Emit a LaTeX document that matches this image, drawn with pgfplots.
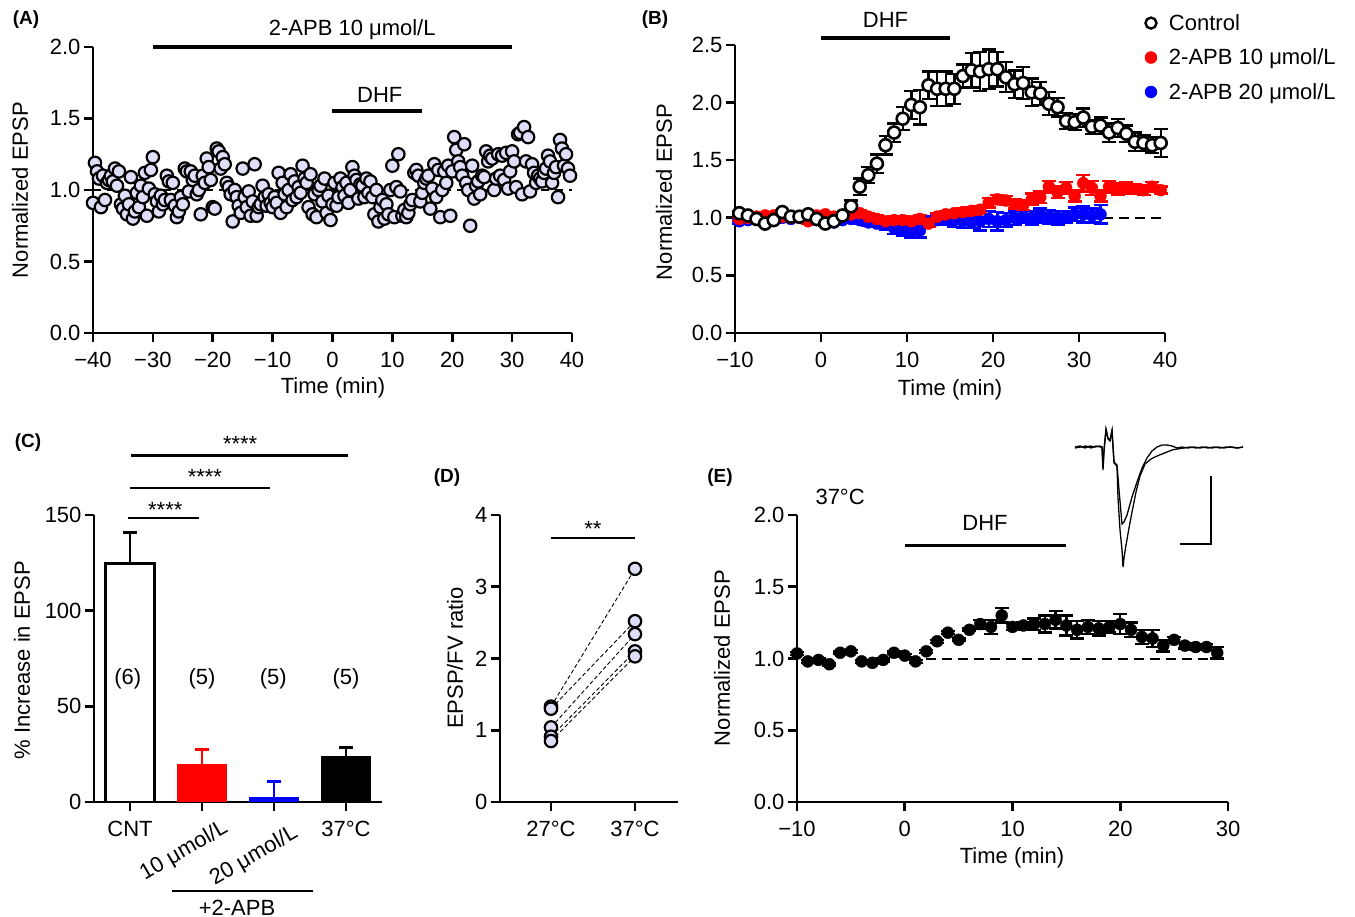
\documentclass[border=0pt]{standalone}
\usepackage{fontspec}
\setmainfont{Liberation Sans}
\usepackage{pgfplots}
\pgfplotsset{compat=1.18}
\definecolor{lav}{RGB}{222,222,248}
\newcommand\fs{\fontsize{22}{26}\selectfont}
\newcommand\fl{\fontsize{19}{22}\selectfont\bfseries}

\pgfplotsset{
  panel/.style={
    scale only axis, clip=false,
    axis lines=left, axis line style={line width=2.6pt,-},
    tick align=outside, major tick length=9pt,
    tick style={line width=2.6pt,black},
    tick label style={font=\fs},
    xticklabel style={yshift=-7pt},
  },
  lavdot/.style={mark=*, mark size=6.2pt, mark options={solid, fill=lav, draw=black, line width=2.2pt}},
  ebar/.style={error bars/.cd, y dir=both, y explicit,
    error bar style={line width=2.4pt,#1},
    error mark options={rotate=90, mark size=7pt, line width=2.4pt, #1}},
  dotleg/.style={legend image code/.code={\draw[##1] plot coordinates {(0pt,0pt)};}},
}

\begin{document}
\begin{tikzpicture}
\useasboundingbox (0,0) rectangle (1355pt,-917pt);

% ---------- (A)
\begin{axis}[panel, at={(93pt,-333pt)}, width=479pt, height=286pt,
  xmin=-40, xmax=40, ymin=0, ymax=2,
  xtick={-40,-30,...,40}, xticklabels={−40,−30,−20,−10,0,10,20,30,40},
  ytick={0,0.5,1,1.5,2}, yticklabels={0.0,0.5,1.0,1.5,2.0}]
\addplot[black, line width=1.4pt, dash pattern=on 8pt off 6pt] coordinates {(-40,1) (40,1)};
\addplot[only marks, lavdot] coordinates {
(-40,0.91)(-39.67,1.19)(-39.33,1.13) (-39,1.08)(-38.67,0.88)(-38.33,1.10)
(-38,0.93)(-37.67,1.05)(-37.33,1.07) (-37,1.10)(-36.67,1.06)(-36.33,1.15)
(-36,1.03)(-35.67,1.13)(-35.33,0.90) (-35,0.87)(-34.67,0.96)(-34.33,0.83)
(-34,0.90)(-33.67,1.09)(-33.33,0.80) (-33,0.85)(-32.67,0.98)(-32.33,0.88)
(-32,1.03)(-31.67,0.95)(-31.33,1.12) (-31,0.82)(-30.67,1.01)(-30.33,1.14)
(-30,1.23)(-29.67,0.97)(-29.33,0.92) (-29,0.85)(-28.67,0.96)(-28.33,0.90)
(-28,0.93)(-27.67,1.10)(-27.33,1.06) (-27,0.93)(-26.67,1.05)(-26.33,0.89)
(-26,0.81)(-25.67,0.85)(-25.33,0.95) (-25,0.90)(-24.67,1.15)(-24.33,1.13)
(-24,0.99)(-23.67,1.13)(-23.33,1.07) (-23,1.10)(-22.67,0.97)(-22.33,1.00)
(-22,0.83)(-21.67,1.10)(-21.33,1.05) (-21,1.22)(-20.67,1.16)(-20.33,1.07)
(-20,0.88)(-19.67,0.87)(-19.33,1.29) (-19,1.27)(-18.67,1.15)(-18.33,1.23)
(-18,1.18)(-17.67,1.05)(-17.33,1.02) (-17,0.97)(-16.67,0.78)(-16.33,1.00)
(-16,0.95)(-15.67,0.89)(-15.33,0.84) (-15,1.15)(-14.67,0.95)(-14.33,0.88)
(-14,0.99)(-13.67,0.82)(-13.33,0.92) (-13,1.18)(-12.67,0.82)(-12.33,0.88)
(-12,0.90)(-11.67,1.03)(-11.33,0.95) (-11,0.89)(-10.67,0.97)(-10.33,0.91)
(-10,0.88)(-9.67,0.95)(-9.33,0.91) (-9,1.12)(-8.67,0.84)(-8.33,1.05)
(-8,0.97)(-7.67,0.88)(-7.33,1.00) (-7,1.11)(-6.67,0.93)(-6.33,1.06)
(-6,0.95)(-5.67,1.02)(-5.33,0.98) (-5,1.17)(-4.67,1.08)(-4.33,1.05)
(-4,0.88)(-3.67,1.11)(-3.33,0.83) (-3,0.97)(-2.67,0.81)(-2.33,1.00)
(-2,1.03)(-1.67,0.92)(-1.33,1.08) (-1,0.84)(-0.67,0.96)(-0.33,0.79)
(0,0.90)(0.33,1.05)(0.67,0.89) (1,0.95)(1.33,1.08)(1.67,1.02)
(2,0.96)(2.33,1.05)(2.67,0.91) (3,1.00)(3.33,1.16)(3.67,1.10)
(4,1.07)(4.33,0.94)(4.67,1.04) (5,1.03)(5.33,0.95)(5.67,1.08)
(6,0.98)(6.33,1.06)(6.67,0.95) (7,0.83)(7.33,1.00)(7.67,0.78)
(8,0.88)(8.33,0.93)(8.67,0.80) (9,0.90)(9.33,0.83)(9.67,1.00)
(10,1.17)(10.33,0.81)(10.67,1.02) (11,1.25)(11.33,0.99)(11.67,0.82)
(12,0.86)(12.33,0.81)(12.67,0.84) (13,0.90)(13.33,0.93)(13.67,1.12)
(14,1.14)(14.33,1.10)(14.67,0.92) (15,0.98)(15.33,1.05)(15.67,1.08)
(16,1.10)(16.33,0.87)(16.67,1.01) (17,1.18)(17.33,0.95)(17.67,1.14)
(18,0.81)(18.33,1.00)(18.67,1.13) (19,1.05)(19.33,1.17)(19.67,0.82)
(20,1.13)(20.33,1.37)(20.67,1.28) (21,1.20)(21.33,1.16)(21.67,1.10)
(22,1.32)(22.33,1.05)(22.67,1.00) (23,0.75)(23.33,1.17)(23.67,0.94)
(24,1.03)(24.33,1.06)(24.67,0.97) (25,1.10)(25.33,1.09)(25.67,1.27)
(26,1.20)(26.33,1.24)(26.67,1.22) (27,1.00)(27.33,1.08)(27.67,1.25)
(28,1.10)(28.33,1.24)(28.67,1.07) (29,1.26)(29.33,1.01)(29.67,1.13)
(30,1.27)(30.33,1.20)(30.67,1.02) (31,1.39)(31.33,1.40)(31.67,0.97)
(32,1.44)(32.33,1.20)(32.67,1.37) (33,0.99)(33.33,1.18)(33.67,1.12)
(34,1.05)(34.33,1.10)(34.67,1.08) (35,1.06)(35.33,1.12)(35.67,1.15)
(36,1.24)(36.33,1.20)(36.67,1.05) (37,1.12)(37.33,1.16)(37.67,0.95)
(38,1.35)(38.33,1.29)(38.67,1.17) (39,1.25)(39.33,1.15)(39.67,1.10)
};
\draw[line width=3.2pt] (axis cs:-30,2) -- (axis cs:30,2);
\node[font=\fs] at (axis cs:3.3,2.12) {2-APB 10 μmol/L};
\draw[line width=3.2pt] (axis cs:0,1.552) -- (axis cs:15,1.552);
\node[font=\fs] at (axis cs:7.9,1.664) {DHF};
\end{axis}

% ---------- (B)
\begin{axis}[panel, at={(735pt,-333pt)}, width=430pt, height=288pt,
  xmin=-10, xmax=40, ymin=0, ymax=2.5,
  xtick={-10,0,...,40}, xticklabels={−10,0,10,20,30,40},
  ytick={0,0.5,...,2.5}, yticklabels={0.0,0.5,1.0,1.5,2.0,2.5},
  legend style={at={(axis description cs:0.953,1.114)}, anchor=north west,
    draw=none, fill=none, font=\fs, row sep=13pt, inner sep=0pt,
    /tikz/every odd column/.append style={column sep=10pt}},
  legend cell align=left]
\addlegendimage{only marks, mark=*, mark size=5.5pt, mark options={fill=white, draw=black, line width=2.4pt}, dotleg}
\addlegendimage{only marks, mark=*, mark size=6pt, red, dotleg}
\addlegendimage{only marks, mark=*, mark size=6pt, blue, dotleg}
\legend{Control, 2-APB 10 μmol/L, 2-APB 20 μmol/L}
\addplot[forget plot, black, line width=2pt, dash pattern=on 10pt off 6pt] coordinates {(-10,1) (40,1)};
% 2-APB 20 umol/L
\addplot[forget plot, only marks, mark=*, mark size=6pt, blue, ebar=blue] table[x=t, y=y, y error=e] {
t y e
-9.5 0.97 0.02
-8.5 0.98 0.02
-7.5 0.99 0.02
-6.5 0.98 0.02
-5.5 0.99 0.02
-4.5 1.00 0.02
-3.5 0.99 0.02
-2.5 1.00 0.02
-1.5 0.99 0.02
-0.5 0.98 0.02
0.5 0.96 0.02
1.5 0.96 0.02
2.5 0.98 0.02
3.5 0.99 0.02
4.5 0.98 0.03
5.5 0.96 0.03
6.5 0.95 0.03
7.5 0.94 0.04
8.5 0.91 0.05
9.5 0.90 0.06
10.5 0.88 0.05
11.5 0.89 0.06
12.5 0.97 0.04
13.5 0.98 0.04
14.5 0.99 0.05
15.5 0.98 0.06
16.5 0.97 0.06
17.5 0.96 0.05
18.5 0.97 0.08
19.5 0.99 0.07
20.5 0.97 0.08
21.5 0.98 0.06
22.5 1.00 0.06
23.5 1.01 0.05
24.5 1.00 0.06
25.5 1.02 0.06
26.5 1.01 0.06
27.5 1.00 0.06
28.5 1.01 0.05
29.5 1.03 0.06
30.5 1.03 0.07
31.5 1.02 0.06
32.5 1.03 0.08
};
% 2-APB 10 umol/L
\addplot[forget plot, only marks, mark=*, mark size=6pt, red, ebar=red] table[x=t, y=y, y error=e] {
t y e
-9.5 0.99 0.02
-8.5 1.00 0.02
-7.5 1.01 0.02
-6.5 1.02 0.02
-5.5 1.02 0.02
-4.5 1.01 0.02
-3.5 1.00 0.02
-2.5 1.00 0.02
-1.5 0.97 0.02
-0.5 1.02 0.02
0.5 1.03 0.02
1.5 1.01 0.02
2.5 1.02 0.02
3.5 1.03 0.03
4.5 1.04 0.03
5.5 1.01 0.03
6.5 0.99 0.03
7.5 0.97 0.03
8.5 0.98 0.03
9.5 0.98 0.03
10.5 0.97 0.03
11.5 0.99 0.03
12.5 0.95 0.03
13.5 1.01 0.03
14.5 1.03 0.03
15.5 1.04 0.03
16.5 1.05 0.03
17.5 1.06 0.03
18.5 1.07 0.03
19.5 1.13 0.04
20.5 1.16 0.04
21.5 1.15 0.04
22.5 1.12 0.04
23.5 1.11 0.04
24.5 1.16 0.05
25.5 1.18 0.05
26.5 1.27 0.05
27.5 1.22 0.05
28.5 1.26 0.05
29.5 1.19 0.05
30.5 1.30 0.07
31.5 1.26 0.06
32.5 1.19 0.05
33.5 1.27 0.05
34.5 1.25 0.05
35.5 1.26 0.05
36.5 1.25 0.04
37.5 1.24 0.04
38.5 1.27 0.04
39.5 1.24 0.03
};
% Control
\addplot[forget plot, only marks, mark=*, mark size=6pt, mark options={fill=white, draw=black, line width=2.6pt}, ebar=black] table[x=t, y=y, y error=e] {
t y e
-9.5 1.04 0.02
-8.5 1.02 0.02
-7.5 0.99 0.02
-6.5 0.95 0.02
-5.5 0.98 0.02
-4.5 1.05 0.02
-3.5 1.01 0.02
-2.5 1.01 0.02
-1.5 1.03 0.02
-0.5 0.99 0.02
0.5 0.95 0.02
1.5 0.97 0.02
2.5 1.02 0.03
3.5 1.10 0.05
4.5 1.27 0.07
5.5 1.37 0.07
6.5 1.47 0.08
7.5 1.63 0.08
8.5 1.74 0.08
9.5 1.86 0.10
10.5 1.98 0.12
11.5 1.96 0.15
12.5 2.15 0.12
13.5 2.12 0.15
14.5 2.12 0.15
15.5 2.12 0.13
16.5 2.23 0.10
17.5 2.28 0.15
18.5 2.27 0.17
19.5 2.29 0.17
20.5 2.29 0.15
21.5 2.22 0.13
22.5 2.16 0.12
23.5 2.17 0.14
24.5 2.09 0.12
25.5 2.08 0.10
26.5 1.99 0.10
27.5 1.96 0.08
28.5 1.84 0.07
29.5 1.83 0.07
30.5 1.87 0.08
31.5 1.79 0.06
32.5 1.80 0.07
33.5 1.74 0.08
34.5 1.78 0.08
35.5 1.73 0.07
36.5 1.66 0.08
37.5 1.65 0.07
38.5 1.63 0.07
39.5 1.65 0.12
};
\draw[line width=3.2pt] (axis cs:0,2.56) -- (axis cs:15,2.56);
\node[font=\fs] at (axis cs:7.5,2.72) {DHF};
\end{axis}

% ---------- (C)
\begin{axis}[panel, at={(94pt,-802pt)}, width=288pt, height=287pt,
  xmin=-0.5, xmax=3.5, ymin=0, ymax=150,
  xtick={0,1,2,3}, xticklabels={CNT,{},{},37°C},
  ytick={0,50,100,150}, yticklabels={0,50,100,150}]
\addplot[ybar, bar width=49pt, bar shift=0pt, fill=white, draw=black, line width=2.6pt,
  error bars/.cd, y dir=plus, y explicit, error bar style={line width=2.6pt,black},
  error mark options={rotate=90, mark size=7pt, line width=2.6pt, black}]
  coordinates {(0,124.6) +- (0,16.3)};
\addplot[ybar, bar width=50pt, bar shift=0pt, fill=red, draw=none,
  error bars/.cd, y dir=plus, y explicit, error bar style={line width=2.6pt,red},
  error mark options={rotate=90, mark size=7pt, line width=2.6pt, red}]
  coordinates {(1,19.7) +- (0,7.7)};
\addplot[ybar, bar width=50pt, bar shift=0pt, fill=blue, draw=none,
  error bars/.cd, y dir=plus, y explicit, error bar style={line width=2.6pt,blue},
  error mark options={rotate=90, mark size=7pt, line width=2.6pt, blue}]
  coordinates {(2,2.6) +- (0,8.2)};
\addplot[ybar, bar width=50pt, bar shift=0pt, fill=black, draw=none,
  error bars/.cd, y dir=plus, y explicit, error bar style={line width=2.6pt,black},
  error mark options={rotate=90, mark size=7pt, line width=2.6pt, black}]
  coordinates {(3,23.9) +- (0,4.5)};
\node[font=\fs] at (axis cs:-0.03,64.5) {(6)};
\node[font=\fs] at (axis cs:1,64.5) {(5)};
\node[font=\fs] at (axis cs:1.99,64.5) {(5)};
\node[font=\fs] at (axis cs:3,64.5) {(5)};
\draw[line width=2.4pt] (axis cs:-0.03,148.3) -- (axis cs:0.96,148.3);
\draw[line width=2.4pt] (axis cs:0,164) -- (axis cs:1.94,164);
\draw[line width=2.4pt] (axis cs:0.01,181) -- (axis cs:3.03,181);
\node[font=\fs, anchor=base] at (axis cs:0.49,148.5) {****};
\node[font=\fs, anchor=base] at (axis cs:1.04,166) {****};
\node[font=\fs, anchor=base] at (axis cs:1.53,183) {****};
\end{axis}

% ---------- (D)
\begin{axis}[panel, at={(500pt,-802pt)}, width=178pt, height=287pt,
  xmin=-0.607, xmax=1.512, ymin=0, ymax=4,
  xtick={0,1}, xticklabels={27°C,37°C},
  ytick={0,1,2,3,4}, yticklabels={0,1,2,3,4}]
\addplot[black, line width=0.9pt, dash pattern=on 4pt off 2.5pt, lavdot] coordinates {(0,1.33) (1,3.25)};
\addplot[black, line width=0.9pt, dash pattern=on 4pt off 2.5pt, lavdot] coordinates {(0,1.30) (1,2.52)};
\addplot[black, line width=0.9pt, dash pattern=on 4pt off 2.5pt, lavdot] coordinates {(0,1.04) (1,2.34)};
\addplot[black, line width=0.9pt, dash pattern=on 4pt off 2.5pt, lavdot] coordinates {(0,0.91) (1,2.10)};
\addplot[black, line width=0.9pt, dash pattern=on 4pt off 2.5pt, lavdot] coordinates {(0,0.85) (1,2.03)};
\draw[line width=2.4pt] (axis cs:0,3.68) -- (axis cs:1,3.68);
\node[font=\fs, anchor=base] at (axis cs:0.5,3.70) {**};
\end{axis}

% ---------- (E)
\begin{axis}[panel, at={(797pt,-802pt)}, width=431pt, height=287pt,
  xmin=-10, xmax=30, ymin=0, ymax=2,
  xtick={-10,0,...,30}, xticklabels={−10,0,10,20,30},
  ytick={0,0.5,1,1.5,2}, yticklabels={0.0,0.5,1.0,1.5,2.0}]
\addplot[black, line width=2pt, dash pattern=on 10pt off 6pt] coordinates {(2,1) (30,1)};
\addplot[only marks, mark=*, mark size=6pt, black, ebar=black] table[x=t, y=y, y error=e] {
t y e
-10 1.035 0.01
-9 0.98 0.01
-8 0.99 0.01
-7 0.96 0.01
-6 1.04 0.01
-5 1.05 0.01
-4 0.98 0.01
-3 0.97 0.01
-2 0.99 0.01
-1 1.04 0.01
0 1.02 0.01
1 0.98 0.01
2 1.05 0.01
3 1.12 0.01
4 1.18 0.01
5 1.13 0.01
6 1.20 0.01
7 1.24 0.03
8 1.22 0.05
9 1.30 0.05
10 1.22 0.02
11 1.23 0.02
12 1.24 0.04
13 1.24 0.06
14 1.27 0.06
15 1.23 0.07
16 1.20 0.06
17 1.22 0.05
18 1.21 0.05
19 1.22 0.04
20 1.24 0.07
21 1.20 0.05
22 1.15 0.05
23 1.14 0.06
24 1.09 0.04
25 1.13 0.02
26 1.09 0.02
27 1.08 0.02
28 1.08 0.02
29 1.04 0.04
};
\draw[line width=3.2pt] (axis cs:0,1.79) -- (axis cs:15,1.79);
\node[font=\fs] at (axis cs:7.45,1.944) {DHF};
\node[font=\fs] at (axis cs:-6,2.125) {37°C};
\end{axis}

% ---------- (E) inset traces
\begin{axis}[at={(1060pt,-590pt)}, anchor=south west, scale only axis,
  width=200pt, height=170pt, xmin=1060, xmax=1260, ymin=-590, ymax=-420,
  hide axis, clip=false]
\addplot[black, line width=1.3pt] coordinates {
(1075,-447)(1080,-446)(1085,-448)(1090,-446)(1095,-447)(1100,-446)(1102,-447)
(1103,-468)(1104,-450)(1106,-429)(1108,-438)(1110,-440)(1112,-430)(1114,-462)
(1117,-465)(1119,-490)(1122,-524)(1124,-522)(1127,-515)(1132,-497)(1137,-482)
(1142,-468)(1147,-458)(1152,-451)(1157,-447)(1162,-445)(1167,-445)(1172,-446)
(1177,-448)(1182,-447)(1188,-448)(1194,-447)(1200,-448)(1206,-447)(1212,-448)
(1218,-447)(1224,-448)(1230,-447)(1236,-448)(1243,-447)};
\addplot[black, line width=1.3pt] coordinates {
(1075,-448)(1081,-447)(1086,-446)(1091,-448)(1096,-446)(1100,-447)(1102,-447)
(1103,-470)(1104,-451)(1106,-430)(1108,-439)(1110,-441)(1112,-431)(1114,-463)
(1117,-466)(1118,-498)(1120,-530)(1122,-550)(1123,-567)(1124,-558)(1126,-545)
(1129,-528)(1132,-512)(1136,-492)(1140,-476)(1145,-464)(1151,-459)(1157,-456)
(1162,-454)(1167,-452)(1172,-450)(1177,-449)(1184,-448)(1190,-447)(1196,-448)
(1202,-447)(1208,-448)(1214,-447)(1220,-448)(1226,-447)(1232,-447)(1238,-448)
(1243,-447)};
\addplot[black, line width=2.4pt] coordinates {(1211,-476) (1211,-544) (1180,-544)};
\end{axis}

% ---------- panel letters and axis titles
\node[font=\fl] at (26pt,-20pt) {(A)};
\node[font=\fl] at (655pt,-20pt) {(B)};
\node[font=\fl] at (28pt,-443pt) {(C)};
\node[font=\fl] at (447pt,-478pt) {(D)};
\node[font=\fl] at (720pt,-478pt) {(E)};

\node[font=\fs, rotate=90] at (20pt,-190pt) {Normalized EPSP};
\node[font=\fs] at (333pt,-388pt) {Time (min)};
\node[font=\fs, rotate=90] at (664pt,-192pt) {Normalized EPSP};
\node[font=\fs] at (950pt,-390pt) {Time (min)};
\node[font=\fs, rotate=90] at (22pt,-660pt) {\% Increase in EPSP};
\node[font=\fs, rotate=90] at (455pt,-658pt) {EPSP/FV ratio};
\node[font=\fs, rotate=90] at (722pt,-658pt) {Normalized EPSP};
\node[font=\fs] at (1012pt,-858pt) {Time (min)};

\node[font=\fs, rotate=30] at (184pt,-851pt) {10 μmol/L};
\node[font=\fs, rotate=30] at (254pt,-856pt) {20 μmol/L};
\draw[line width=2.4pt] (172pt,-891pt) -- (313pt,-891pt);
\node[font=\fs, anchor=base] at (237pt,-915pt) {+2-APB};
\end{tikzpicture}
\end{document}
